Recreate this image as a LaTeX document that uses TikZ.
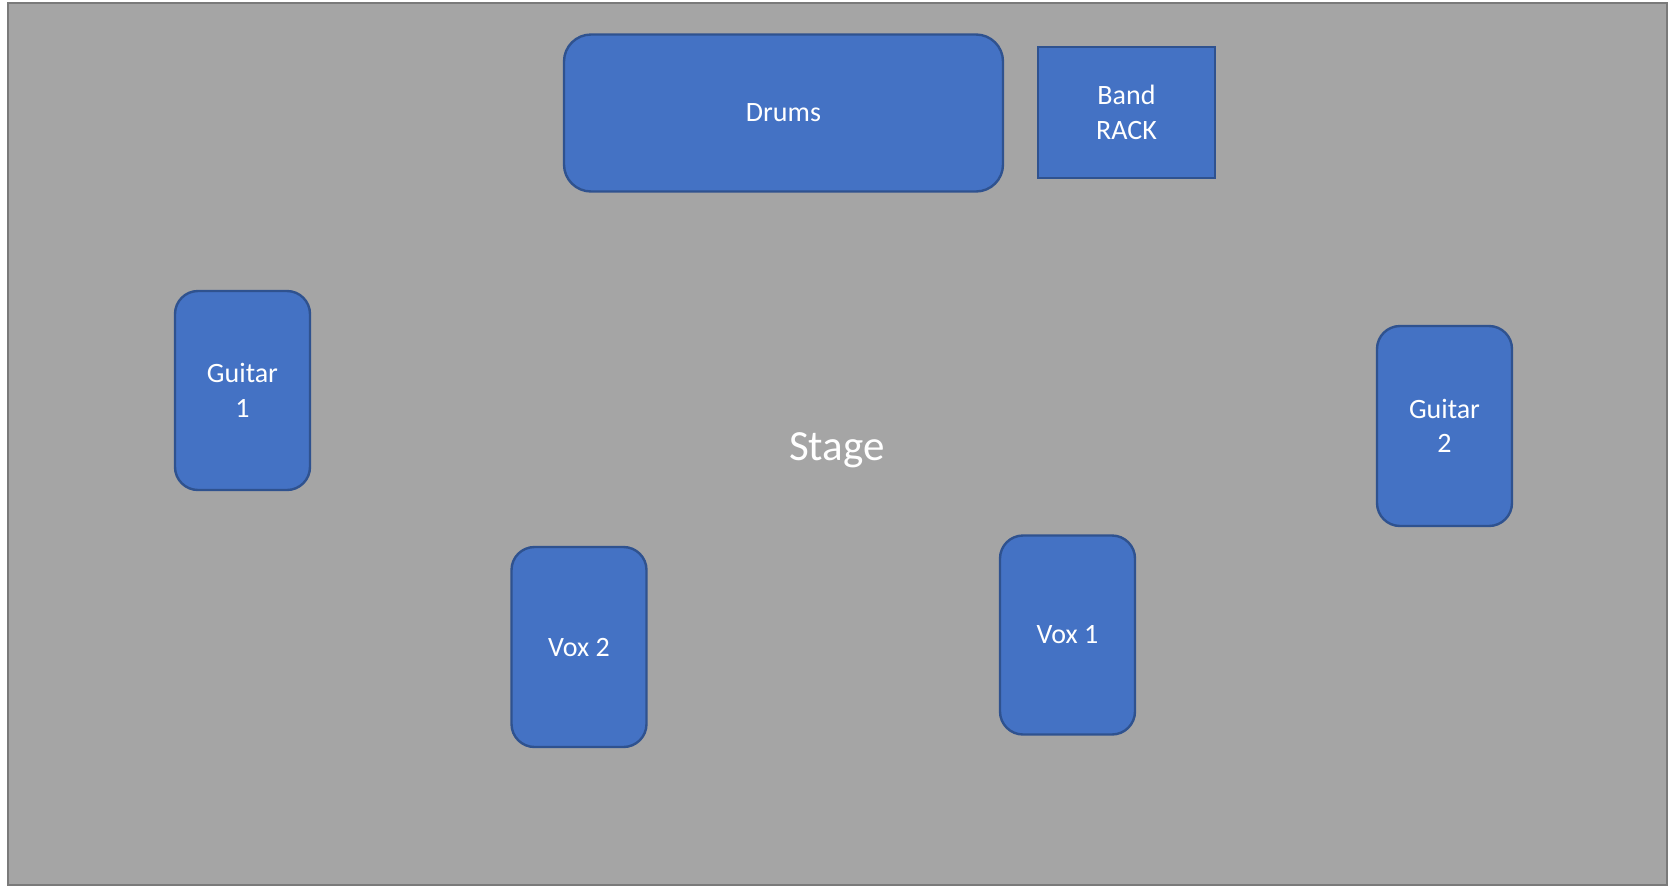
\documentclass[tikz,border=0pt]{standalone}
\usepackage{fontspec}
\setmainfont{Carlito}
\definecolor{stagefill}{HTML}{A5A5A5}
\definecolor{stageline}{HTML}{7A7A7A}
\definecolor{boxfill}{HTML}{4472C4}
\definecolor{boxline}{HTML}{2F528F}
\begin{document}
\begin{tikzpicture}[x=1pt,y=-1pt,
  stagebox/.style={draw=stageline, fill=stagefill, line width=2.2pt},
  itembox/.style={draw=boxline, fill=boxfill, line width=2.4pt, text=white,
    font=\fontsize{28}{34.5}\selectfont, align=center, inner sep=0pt},
  rbox/.style={itembox, rounded corners=23pt},
  sqbox/.style={itembox}]
\useasboundingbox (0,0) rectangle (1679,887);
\draw[stagebox] (8,3) rectangle (1667,885);
\node[text=white, font=\fontsize{43}{52}\selectfont] (stage) at (837,450) {Stage};
\node[rbox, rounded corners=27pt, minimum width=439pt, minimum height=157pt] (drums) at (783.5,113) {Drums};
\node[sqbox, minimum width=177pt, minimum height=131pt] (rack) at (1126.5,112.5) {Band\\RACK};
\node[rbox, minimum width=135pt, minimum height=199pt] (g1) at (242.5,390.5) {Guitar\\1};
\node[rbox, minimum width=135pt, minimum height=200pt] (g2) at (1444.5,426) {Guitar\\2};
\node[rbox, minimum width=135pt, minimum height=200pt] (v2) at (579,647) {Vox 2};
\node[rbox, minimum width=135pt, minimum height=199pt] (v1) at (1067.5,635) {Vox 1};
\end{tikzpicture}
\end{document}
